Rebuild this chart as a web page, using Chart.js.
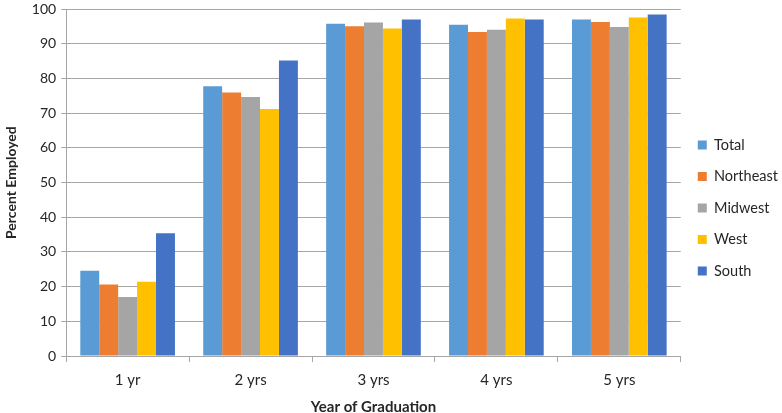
<!DOCTYPE html>
<html>
<head>
<meta charset="utf-8">
<script src="https://cdn.jsdelivr.net/npm/chart.js@4"></script>
<style>
  html, body { margin: 0; padding: 0; background: #fff; }
  #wrap { width: 782px; height: 413px; }
</style>
</head>
<body>
<div id="wrap"><canvas id="employChart"></canvas></div>
<script>
var years = ['1 yr', '2 yrs', '3 yrs', '4 yrs', '5 yrs'];
var totalValues = [24.6, 77.8, 95.8, 95.5, 97.0];
var northeastValues = [20.6, 76.0, 95.1, 93.4, 96.3];
var midwestValues = [17.0, 74.7, 96.2, 94.1, 94.9];
var westValues = [21.4, 71.2, 94.4, 97.3, 97.6];
var southValues = [35.4, 85.2, 97.0, 97.0, 98.5];

var gridGray = '#a6a6a6';
var textColor = '#262626';

var ctx = document.getElementById('employChart').getContext('2d');
var employChart = new Chart(ctx, {
  type: 'bar',
  data: {
    labels: years,
    datasets: [{
      label: 'Total',
      data: totalValues,
      backgroundColor: '#5b9bd5'
    }, {
      label: 'Northeast',
      data: northeastValues,
      backgroundColor: '#ed7d31'
    }, {
      label: 'Midwest',
      data: midwestValues,
      backgroundColor: '#a5a5a5'
    }, {
      label: 'West',
      data: westValues,
      backgroundColor: '#ffc000'
    }, {
      label: 'South',
      data: southValues,
      backgroundColor: '#4472c4'
    }]
  },
  options: {
    responsive: true,
    maintainAspectRatio: false,
    animation: false,
    layout: { padding: { top: 0, right: -6, bottom: -3, left: 3 } },
    datasets: {
      bar: { categoryPercentage: 0.77, barPercentage: 1.0 }
    },
    plugins: {
      tooltip: { enabled: false },
      legend: {
        position: 'right',
        labels: {
          boxWidth: 9,
          boxHeight: 9,
          padding: 17,
          color: textColor,
          font: { family: 'Lato', size: 14.5 }
        }
      }
    },
    scales: {
      x: {
        grid: {
          drawOnChartArea: false,
          drawTicks: true,
          tickLength: 6,
          color: gridGray
        },
        border: { color: gridGray },
        ticks: {
          color: textColor,
          padding: 9,
          font: { family: 'Lato', size: 15 }
        },
        title: {
          display: true,
          text: 'Year of Graduation',
          color: textColor,
          padding: { top: 0, bottom: 0 },
          font: { family: 'Lato', size: 15, weight: 'bold' }
        }
      },
      y: {
        min: 0,
        max: 100,
        grid: {
          color: gridGray,
          tickLength: 5
        },
        border: { color: gridGray },
        ticks: {
          stepSize: 10,
          color: textColor,
          padding: 5,
          font: { family: 'Lato', size: 14, lineHeight: 0.6 }
        },
        title: {
          display: true,
          text: 'Percent Employed',
          color: textColor,
          padding: { top: 0, bottom: 7 },
          font: { family: 'Lato', size: 14, weight: 'bold' }
        }
      }
    }
  }
});
</script>
</body>
</html>
